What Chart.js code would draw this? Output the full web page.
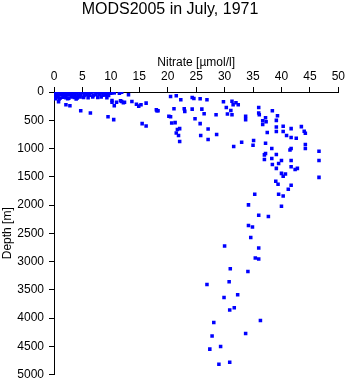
<!DOCTYPE html>
<html>
<head>
<meta charset="utf-8">
<script src="https://cdn.jsdelivr.net/npm/chart.js@4"></script>
<style>
  html, body { margin: 0; padding: 0; background: #fff; }
  #wrap { width: 348px; height: 384px; }
</style>
</head>
<body>
<div id="wrap"><canvas id="myChart" width="348" height="384"></canvas></div>
<script>
// nitrate (umol/l) và depth (m)
const nitrate = [
  // cụm dày gần mặt
  0.1, 0.5, 1.0, 1.5, 2.0, 2.5, 3.0, 3.5, 4.0, 4.5, 5.0, 5.5, 6.0, 6.5, 7.0, 7.5, 8.0, 8.5, 9.0, 9.5, 10.0, 10.6,
  0.2, 0.7, 1.2, 1.7, 2.2, 2.7, 3.2, 3.7, 4.2, 4.7, 5.3, 5.8, 6.3, 6.9, 7.4, 8.0, 8.6, 9.1, 9.6,
  0.1, 0.6, 1.1, 1.6, 2.1, 2.6, 3.1, 3.6, 4.1, 4.6, 5.2, 6.0, 6.8, 7.7, 8.3, 9.3,
  0.3, 0.9, 2.4, 3.9,
  // phần còn lại
  0.8, 2.1, 2.8, 4.7, 6.4, 9.5, 10.5, 10.2, 11.0, 11.9, 12.4, 13.1, 13.7, 14.5, 15.3, 16.2,
  15.5, 16.2, 10.2, 10.6, 11.5, 11.9, 10.2, 11.7, 12.2, 14.9, 10.6, 18.3,
  20.5, 21.5, 22.3, 24.3, 24.6, 25.7, 26.9, 29.8, 31.3, 31.5, 32.0, 32.4,
  18.0, 18.1, 21.1, 22.9, 23.0, 24.3, 26.0, 26.4, 28.5, 30.3, 31.1, 30.5, 31.3,
  33.7, 33.7, 36.0, 36.0, 36.1, 38.4, 39.3, 37.2, 36.7, 37.3, 36.7, 39.1,
  20.2, 20.5, 24.8, 25.7, 20.7, 21.3, 21.7, 22.1, 21.5, 21.9, 22.1,
  27.1, 25.8, 28.6, 27.1, 33.0, 31.6, 35.1, 35.0, 37.2, 37.5,
  39.1, 39.1, 40.3, 40.3, 41.7, 40.9, 41.7, 42.6, 43.5, 44.0, 44.2, 44.2, 44.2,
  41.7, 41.5, 38.3, 37.2, 37.0, 39.1, 38.3, 37.0, 40.0, 39.5, 38.4, 41.7, 41.7, 42.8, 42.4,
  46.6, 46.6, 46.6, 39.1, 40.0, 40.7, 40.3, 39.0, 39.4, 41.7, 41.2,
  35.3, 39.5, 40.3, 34.2, 40.0, 36.0, 37.7, 34.2, 34.9, 34.6,
  30.0, 36.0, 35.4, 36.0, 31.0, 34.1, 30.8, 26.9, 32.3, 29.9, 30.9, 31.7,
  28.1, 36.3, 27.8, 33.7, 27.4, 29.3, 29.0, 30.9
];
const depth = [
  5, 12, 0, 8, 4, 10, 2, 14, 6, 0, 9, 3, 12, 5, 0, 10, 4, 13, 2, 8, 20, 15,
  48, 55, 45, 60, 50, 52, 58, 46, 54, 50, 60, 47, 55, 62, 50, 44, 58, 52, 60,
  95, 88, 105, 92, 100, 110, 90, 98, 104, 86, 96, 100, 90, 95, 88, 100,
  120, 125, 118, 122,
  173, 225, 243, 331, 373, 437, 489, 180, 180, 167, 180, 49, 167, 215, 225, 197,
  560, 602, 14, 9, 21, 4, 150, 155, 190, 250, 243, 331,
  79, 67, 137, 97, 114, 120, 137, 173, 162, 225, 190, 225,
  313, 331, 296, 296, 343, 303, 303, 384, 401, 273, 326, 391, 401,
  431, 489, 273, 373, 401, 331, 419, 454, 507, 525, 577, 502,
  431, 437, 472, 560, 549, 542, 665, 648, 725, 771, 877,
  655, 771, 754, 842, 889, 965, 859, 942, 907, 718,
  620, 701, 607, 701, 648, 771, 806, 819, 613, 695, 731, 930, 1000,
  1000, 1025, 1000, 1088, 1113, 1106, 1176, 1194, 1211, 1264, 1282, 1211, 1324, 1352, 1370,
  1048, 1211, 1511, 1352, 1440, 1452, 1493, 1581, 1634, 1651, 1722,
  1810, 1810, 1840, 1998, 2021, 2180, 2204, 2363, 2391, 2574,
  2725, 2761, 2937, 2954, 3130, 3178, 3359, 3407, 3588, 3636, 3859, 3817,
  4081, 4046, 4317, 4275, 4551, 4504, 4820, 4785
];

// trục
const xMin = 0, xMax = 50, xStep = 5;
const yMin = 0, yMax = 5000, yStep = 500;

const chartTitle = 'MODS2005 in July, 1971';
const xTitle = 'Nitrate [\u00b5mol/l]';
const yTitle = 'Depth [m]';

let points = nitrate.map(function (n, i) {
  return { x: n, y: depth[i] };
});

Chart.defaults.font.family = "'Liberation Sans', Arial, sans-serif";
Chart.defaults.color = '#000';

const ctx = document.getElementById('myChart');
new Chart(ctx, {
  type: 'scatter',
  data: {
    datasets: [{
      data: points,
      pointStyle: 'rect',
      pointRadius: 2.5,
      pointBorderWidth: 0,
      pointBackgroundColor: '#0000ff',
      pointHoverRadius: 2.5
    }]
  },
  options: {
    responsive: false,
    animation: false,
    events: [],
    layout: {
      padding: { top: 0, left: 0, right: 8, bottom: 9.5 }
    },
    plugins: {
      legend: { display: false },
      tooltip: { enabled: false },
      title: {
        display: true,
        text: chartTitle,
        color: '#000',
        font: { size: 16, weight: 'normal' },
        padding: { top: 0, bottom: 0 }
      }
    },
    scales: {
      x: {
        type: 'linear',
        position: 'top',
        min: xMin,
        max: xMax,
        afterFit: function (scale) { scale.height = 72.8; },
        ticks: { stepSize: xStep, padding: 3, font: { size: 12 }, color: '#000', maxRotation: 0 },
        grid: { drawOnChartArea: false, tickLength: 5, color: '#000', lineWidth: 1 },
        border: { display: true, color: '#000', width: 1 },
        title: { display: true, text: xTitle, font: { size: 12 }, color: '#000', padding: { top: 36.6, bottom: 0 } }
      },
      y: {
        type: 'linear',
        reverse: true,
        min: yMin,
        max: yMax,
        afterFit: function (scale) {
          scale.width = 54;
          // không để nhãn đẩy vùng vẽ
          scale.paddingTop = 0;
          scale.paddingBottom = 0;
        },
        ticks: {
          stepSize: yStep, padding: 5, font: { size: 12 }, color: '#000',
          callback: function (v) { return String(v); }
        },
        grid: { drawOnChartArea: false, tickLength: 5, color: '#000', lineWidth: 1 },
        border: { display: true, color: '#000', width: 1 },
        title: { display: true, text: yTitle, font: { size: 12 }, color: '#000', padding: { top: 0, bottom: 0 } }
      }
    }
  }
});
</script>
</body>
</html>
